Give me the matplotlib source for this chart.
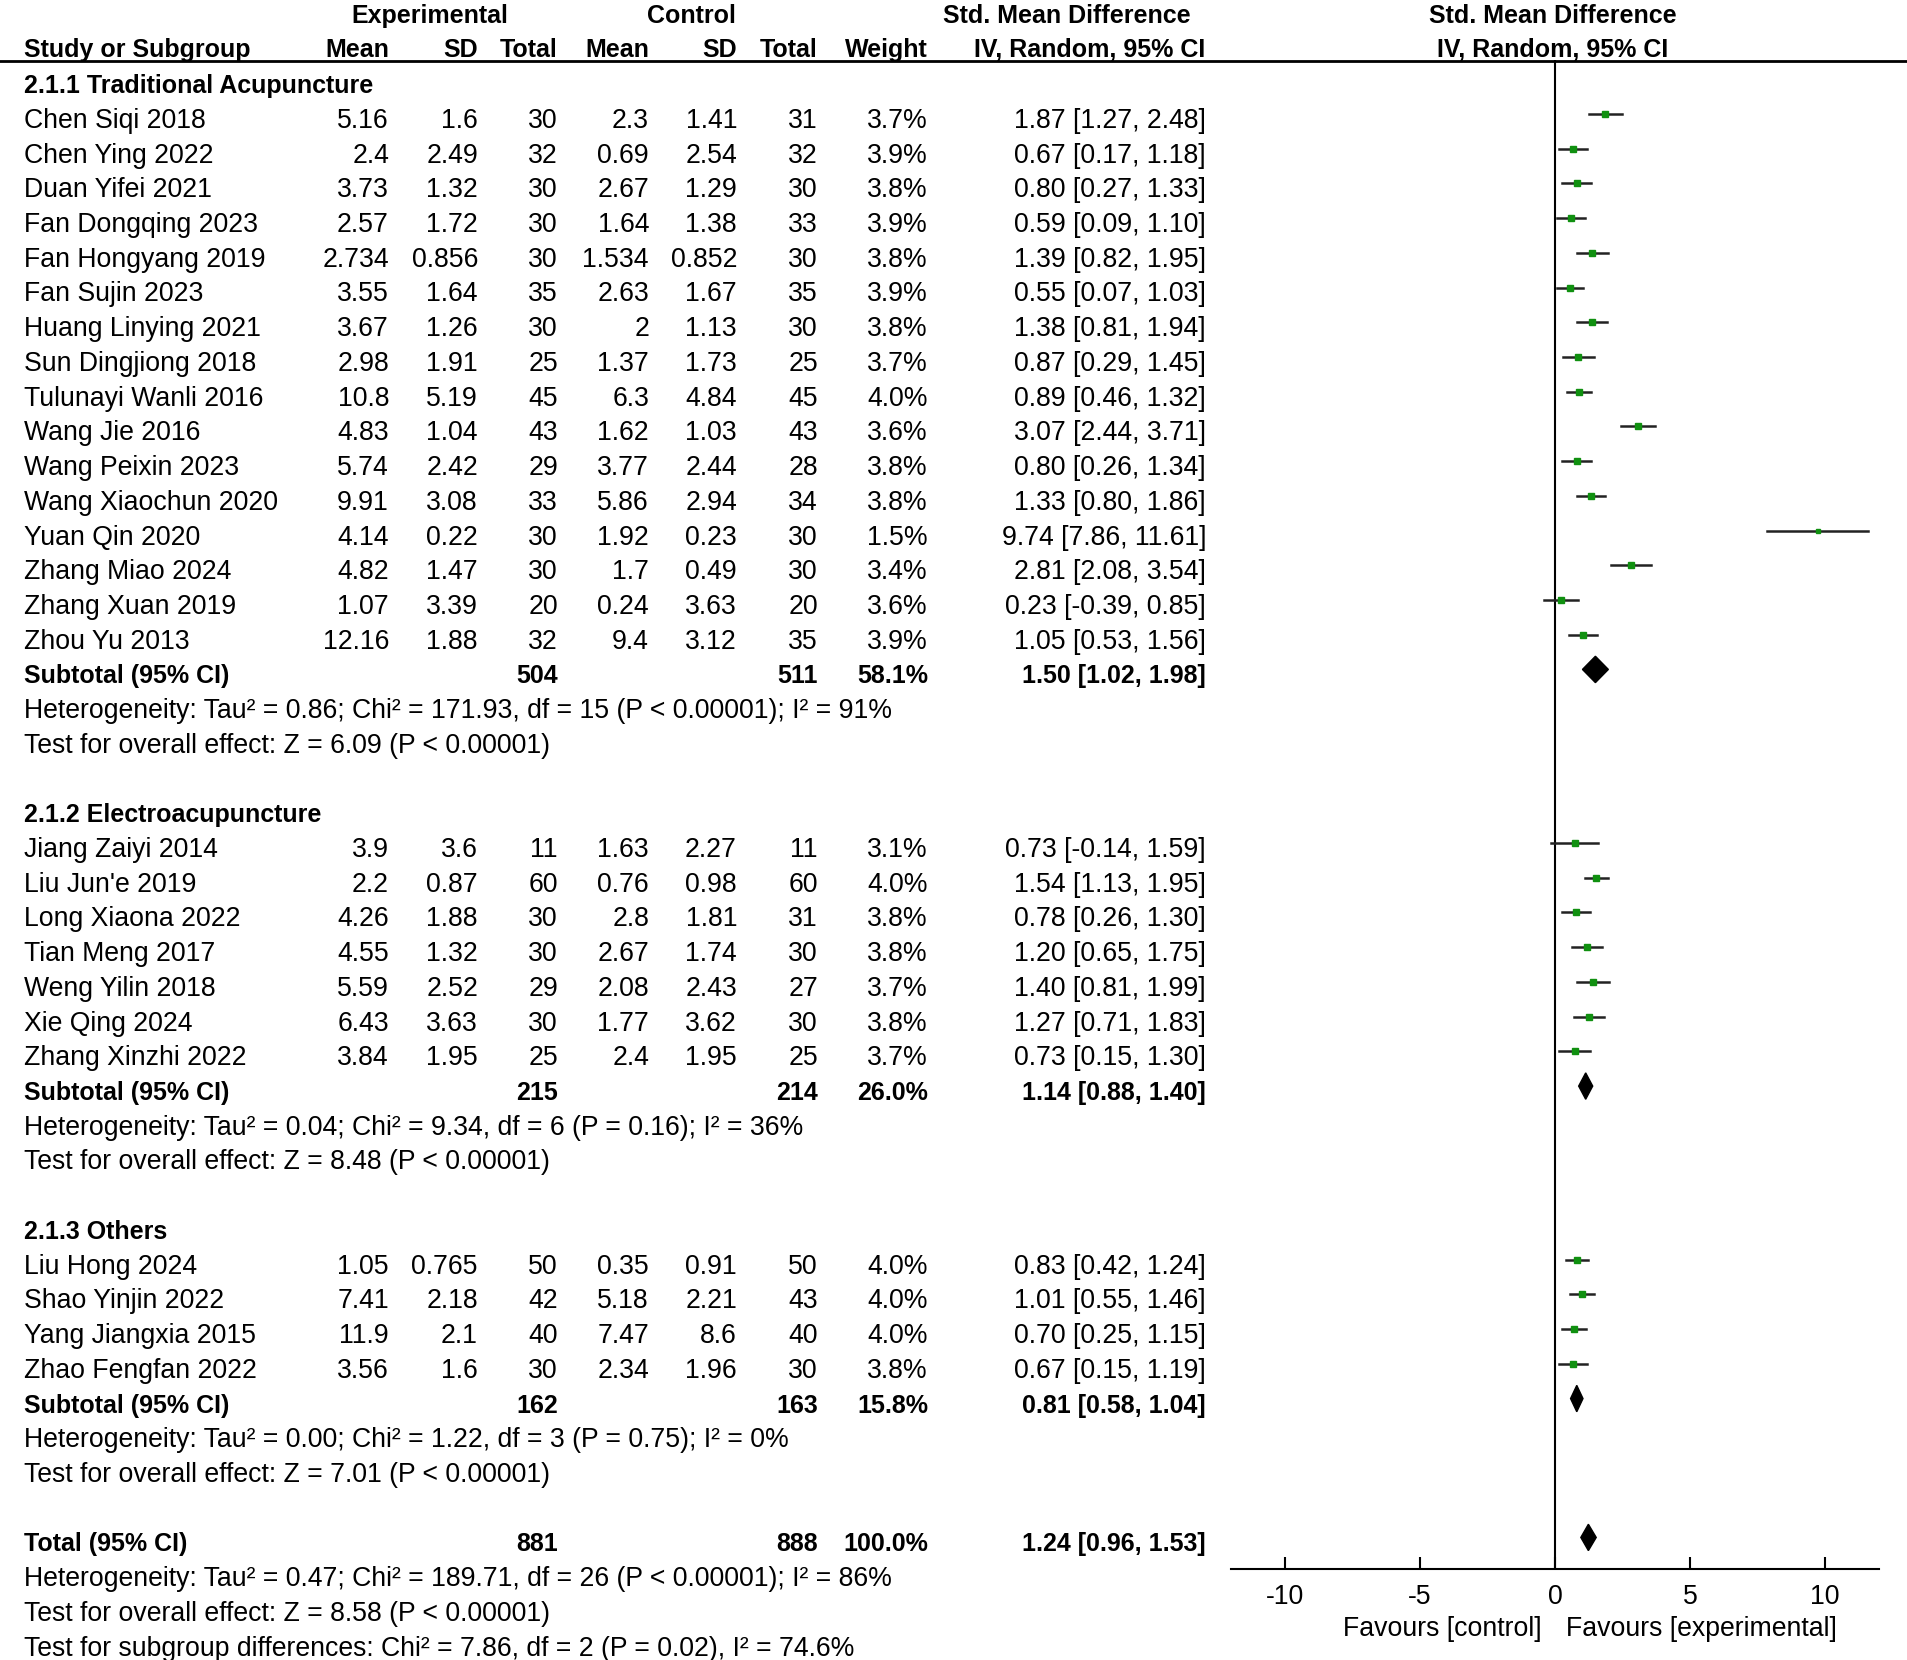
import matplotlib.pyplot as plt
from matplotlib.patches import Polygon

plt.rcParams['font.family'] = ['Liberation Sans', 'DejaVu Sans']

W, H = 1907, 1660
Y0, DY = 79.2, 34.72      # pixel y of first row, row spacing
TXT = 0.2                 # text sits a little below the marks
FS, FSB = 19.2, 18.0

# ---- data ----
names = ["Chen Siqi 2018", "Chen Ying 2022", "Duan Yifei 2021", "Fan Dongqing 2023",
         "Fan Hongyang 2019", "Fan Sujin 2023", "Huang Linying 2021", "Sun Dingjiong 2018",
         "Tulunayi Wanli 2016", "Wang Jie 2016", "Wang Peixin 2023", "Wang Xiaochun 2020",
         "Yuan Qin 2020", "Zhang Miao 2024", "Zhang Xuan 2019", "Zhou Yu 2013",
         "Jiang Zaiyi 2014", "Liu Jun'e 2019", "Long Xiaona 2022", "Tian Meng 2017",
         "Weng Yilin 2018", "Xie Qing 2024", "Zhang Xinzhi 2022",
         "Liu Hong 2024", "Shao Yinjin 2022", "Yang Jiangxia 2015", "Zhao Fengfan 2022"]
exp_mean = [5.16, 2.4, 3.73, 2.57, 2.734, 3.55, 3.67, 2.98, 10.8, 4.83, 5.74, 9.91, 4.14, 4.82, 1.07, 12.16,
            3.9, 2.2, 4.26, 4.55, 5.59, 6.43, 3.84,
            1.05, 7.41, 11.9, 3.56]
exp_sd = [1.6, 2.49, 1.32, 1.72, 0.856, 1.64, 1.26, 1.91, 5.19, 1.04, 2.42, 3.08, 0.22, 1.47, 3.39, 1.88,
          3.6, 0.87, 1.88, 1.32, 2.52, 3.63, 1.95,
          0.765, 2.18, 2.1, 1.6]
exp_n = [30, 32, 30, 30, 30, 35, 30, 25, 45, 43, 29, 33, 30, 30, 20, 32,
         11, 60, 30, 30, 29, 30, 25,
         50, 42, 40, 30]
ctl_mean = [2.3, 0.69, 2.67, 1.64, 1.534, 2.63, 2, 1.37, 6.3, 1.62, 3.77, 5.86, 1.92, 1.7, 0.24, 9.4,
            1.63, 0.76, 2.8, 2.67, 2.08, 1.77, 2.4,
            0.35, 5.18, 7.47, 2.34]
ctl_sd = [1.41, 2.54, 1.29, 1.38, 0.852, 1.67, 1.13, 1.73, 4.84, 1.03, 2.44, 2.94, 0.23, 0.49, 3.63, 3.12,
          2.27, 0.98, 1.81, 1.74, 2.43, 3.62, 1.95,
          0.91, 2.21, 8.6, 1.96]
ctl_n = [31, 32, 30, 33, 30, 35, 30, 25, 45, 43, 28, 34, 30, 30, 20, 35,
         11, 60, 31, 30, 27, 30, 25,
         50, 43, 40, 30]
weight = [3.7, 3.9, 3.8, 3.9, 3.8, 3.9, 3.8, 3.7, 4.0, 3.6, 3.8, 3.8, 1.5, 3.4, 3.6, 3.9,
          3.1, 4.0, 3.8, 3.8, 3.7, 3.8, 3.7,
          4.0, 4.0, 4.0, 3.8]
smd = [1.87, 0.67, 0.80, 0.59, 1.39, 0.55, 1.38, 0.87, 0.89, 3.07, 0.80, 1.33, 9.74, 2.81, 0.23, 1.05,
       0.73, 1.54, 0.78, 1.20, 1.40, 1.27, 0.73,
       0.83, 1.01, 0.70, 0.67]
ci_lo = [1.27, 0.17, 0.27, 0.09, 0.82, 0.07, 0.81, 0.29, 0.46, 2.44, 0.26, 0.80, 7.86, 2.08, -0.39, 0.53,
         -0.14, 1.13, 0.26, 0.65, 0.81, 0.71, 0.15,
         0.42, 0.55, 0.25, 0.15]
ci_hi = [2.48, 1.18, 1.33, 1.10, 1.95, 1.03, 1.94, 1.45, 1.32, 3.71, 1.34, 1.86, 11.61, 3.54, 0.85, 1.56,
         1.59, 1.95, 1.30, 1.75, 1.99, 1.83, 1.30,
         1.24, 1.46, 1.15, 1.19]

group_titles = ["2.1.1 Traditional Acupuncture", "2.1.2 Electroacupuncture", "2.1.3 Others"]
group_sizes = [16, 7, 4]
sub_exp_n = [504, 215, 162]
sub_ctl_n = [511, 214, 163]
sub_weight = [58.1, 26.0, 15.8]
sub_smd = [1.50, 1.14, 0.81]
sub_lo = [1.02, 0.88, 0.58]
sub_hi = [1.98, 1.40, 1.04]
sub_het = ["Heterogeneity: Tau² = 0.86; Chi² = 171.93, df = 15 (P < 0.00001); I² = 91%",
           "Heterogeneity: Tau² = 0.04; Chi² = 9.34, df = 6 (P = 0.16); I² = 36%",
           "Heterogeneity: Tau² = 0.00; Chi² = 1.22, df = 3 (P = 0.75); I² = 0%"]
sub_z = ["Test for overall effect: Z = 6.09 (P < 0.00001)",
         "Test for overall effect: Z = 8.48 (P < 0.00001)",
         "Test for overall effect: Z = 7.01 (P < 0.00001)"]

tot_exp_n, tot_ctl_n, tot_weight = 881, 888, 100.0
tot_smd, tot_lo, tot_hi = 1.24, 0.96, 1.53
tot_lines = ["Heterogeneity: Tau² = 0.47; Chi² = 189.71, df = 26 (P < 0.00001); I² = 86%",
             "Test for overall effect: Z = 8.58 (P < 0.00001)",
             "Test for subgroup differences: Chi² = 7.86, df = 2 (P = 0.02), I² = 74.6%"]
ticks = [-10, -5, 0, 5, 10]

# column right edges (px)
X_NAME = 24
X_EM, X_ESD, X_EN, X_CM, X_CSD, X_CN, X_W, X_CI = 389, 478, 558, 649, 737, 818, 928, 1206


def row(px):
    return (px - Y0) / DY


fig = plt.figure(figsize=(W / 100, H / 100), dpi=100)
ax = fig.add_axes([0, 0, 1, 1])
ax.set_xlim(0, W)
ax.set_ylim(row(H), row(0))
ax.axis('off')

fx = fig.add_axes([1230.8 / W, 1 - 1569 / H, (1879 - 1230.8) / W, (1569 - 60) / H])
fx.set_xlim(-12, 12)
fx.set_ylim(row(1569), row(60))
fx.set_facecolor('none')
for s in ['top', 'right', 'left']:
    fx.spines[s].set_visible(False)
fx.spines['bottom'].set_linewidth(1.5)
fx.set_yticks([])
fx.set_xticks(ticks)
fx.set_xticklabels([str(t) for t in ticks])
fx.tick_params(axis='x', direction='in', length=9, width=1.5, pad=11, labelsize=FS)
fx.axvline(0, color='black', lw=1.5)


def t(x, y, s, ha='right', bold=False, dy=TXT):
    ax.text(x, y + dy, s, ha=ha, va='center', fontsize=FSB if bold else FS,
            fontweight='bold' if bold else 'normal')


# headers
hb = dict(bold=True, ha='center', dy=0)
t(430, row(16), "Experimental", **hb)
t(691, row(16), "Control", **hb)
t(1067, row(16), "Std. Mean Difference", **hb)
t(1553, row(16), "Std. Mean Difference", **hb)
t(X_NAME, row(50), "Study or Subgroup", ha='left', bold=True, dy=0)
for x, s in zip([X_EM, X_ESD, X_EN, X_CM, X_CSD, X_CN, X_W],
                ["Mean", "SD", "Total", "Mean", "SD", "Total", "Weight"]):
    t(x, row(50), s, bold=True, dy=0)
t(1090, row(50), "IV, Random, 95% CI", **hb)
t(1553, row(50), "IV, Random, 95% CI", **hb)
ax.axhline(row(61), color='black', lw=2)

r = 0
i = 0
for g in range(len(group_titles)):
    t(X_NAME, r, group_titles[g], ha='left', bold=True)
    r += 1
    for _ in range(group_sizes[g]):
        t(X_NAME, r, names[i], ha='left')
        t(X_EM, r, f"{exp_mean[i]:g}")
        t(X_ESD, r, f"{exp_sd[i]:g}")
        t(X_EN, r, f"{exp_n[i]}")
        t(X_CM, r, f"{ctl_mean[i]:g}")
        t(X_CSD, r, f"{ctl_sd[i]:g}")
        t(X_CN, r, f"{ctl_n[i]}")
        t(X_W, r, f"{weight[i]:.1f}%")
        t(X_CI, r, f"{smd[i]:.2f} [{ci_lo[i]:.2f}, {ci_hi[i]:.2f}]")
        fx.plot([ci_lo[i], ci_hi[i]], [r, r], color='#222222', lw=1.8, clip_on=False)
        fx.plot(smd[i], r, marker='s', color='#109010', ms=2.4 * weight[i] ** 0.5,
                mec='#109010', clip_on=False)
        r += 1
        i += 1
    t(X_NAME, r, "Subtotal (95% CI)", ha='left', bold=True)
    t(X_EN, r, f"{sub_exp_n[g]}", bold=True)
    t(X_CN, r, f"{sub_ctl_n[g]}", bold=True)
    t(X_W, r, f"{sub_weight[g]:.1f}%", bold=True)
    t(X_CI, r, f"{sub_smd[g]:.2f} [{sub_lo[g]:.2f}, {sub_hi[g]:.2f}]", bold=True)
    fx.add_patch(Polygon([[sub_lo[g], r], [sub_smd[g], r - 0.38], [sub_hi[g], r],
                          [sub_smd[g], r + 0.38]], closed=True, color='black'))
    t(X_NAME, r + 1, sub_het[g], ha='left')
    t(X_NAME, r + 2, sub_z[g], ha='left')
    r += 4

t(X_NAME, r, "Total (95% CI)", ha='left', bold=True)
t(X_EN, r, f"{tot_exp_n}", bold=True)
t(X_CN, r, f"{tot_ctl_n}", bold=True)
t(X_W, r, f"{tot_weight:.1f}%", bold=True)
t(X_CI, r, f"{tot_smd:.2f} [{tot_lo:.2f}, {tot_hi:.2f}]", bold=True)
fx.add_patch(Polygon([[tot_lo, r], [tot_smd, r - 0.38], [tot_hi, r],
                      [tot_smd, r + 0.38]], closed=True, color='black'))
for k, s in enumerate(tot_lines):
    t(X_NAME, r + 1 + k, s, ha='left')

fx.text(-0.5, row(1629), "Favours [control]", ha='right', va='center', fontsize=FS, clip_on=False)
fx.text(0.4, row(1629), "Favours [experimental]", ha='left', va='center', fontsize=FS, clip_on=False)

fig.savefig('out.png', dpi=100, facecolor='white')
